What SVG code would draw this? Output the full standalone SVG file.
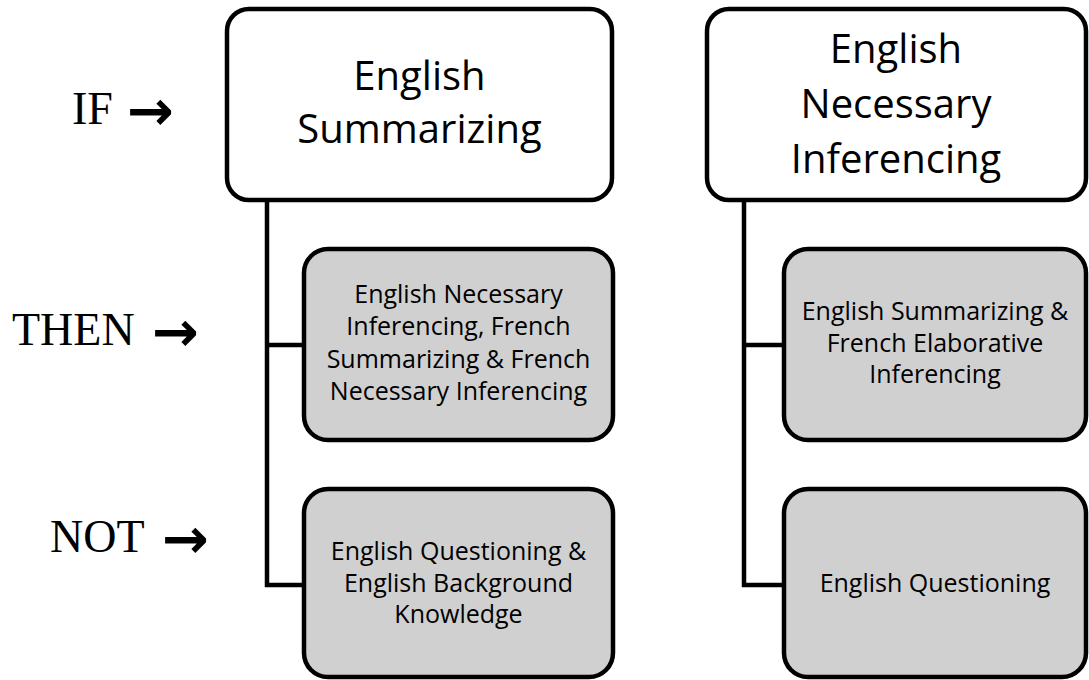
<svg xmlns="http://www.w3.org/2000/svg" width="1089" height="680" viewBox="0 0 1089 680">
  <style>
    .top { fill: #ffffff; stroke: #000000; stroke-width: 4.5; }
    .sub { fill: #d0d0d0; stroke: #000000; stroke-width: 4.5; }
    .conn { fill: none; stroke: #000000; stroke-width: 4.5; stroke-linejoin: miter; }
    .big { font-family: "Open Sans", "Liberation Sans", sans-serif; font-size: 40px; fill: #000; text-anchor: middle; }
    .small { font-family: "Open Sans", "Liberation Sans", sans-serif; font-size: 25px; fill: #000; text-anchor: middle; }
    .lbl { font-family: "Liberation Serif", "Times New Roman", serif; font-size: 46px; fill: #000; }
    .arr { font-family: "Noto Sans", "DejaVu Sans", sans-serif; font-weight: 700; font-size: 56px; }
  </style>
  <rect width="1089" height="680" fill="#ffffff"/>

  <g id="labels">
    <text class="lbl" x="72" y="124">IF<tspan class="arr" x="127" dy="6">→</tspan></text>
    <text class="lbl" x="12" y="345">THEN<tspan class="arr" x="152" dy="6">→</tspan></text>
    <text class="lbl" x="50" y="552">NOT<tspan class="arr" x="162" dy="6">→</tspan></text>
  </g>

  <g id="connectors">
    <path class="conn" d="M267,200 V585 H304 M267,345 H304"/>
    <path class="conn" d="M744,200 V585 H784 M744,345 H784"/>
  </g>

  <g id="node-eng-sum">
    <rect class="top" x="227" y="9" width="385" height="191" rx="22" ry="22"/>
    <text class="big" x="419.5" y="90">English</text>
    <text class="big" x="419.5" y="143">Summarizing</text>
  </g>

  <g id="node-eng-nec">
    <rect class="top" x="707" y="9" width="379" height="191" rx="22" ry="22"/>
    <text class="big" x="896" y="63">English</text>
    <text class="big" x="896" y="118">Necessary</text>
    <text class="big" x="896" y="173">Inferencing</text>
  </g>

  <g id="node-then-left">
    <rect class="sub" x="304" y="249" width="309" height="191" rx="24" ry="24"/>
    <text class="small" x="458.5" y="303">English Necessary</text>
    <text class="small" x="458.5" y="335">Inferencing, French</text>
    <text class="small" x="458.5" y="368">Summarizing &amp; French</text>
    <text class="small" x="458.5" y="400">Necessary Inferencing</text>
  </g>

  <g id="node-not-left">
    <rect class="sub" x="304" y="489" width="309" height="188" rx="24" ry="24"/>
    <text class="small" x="458.5" y="560">English Questioning &amp;</text>
    <text class="small" x="458.5" y="592">English Background</text>
    <text class="small" x="458.5" y="623">Knowledge</text>
  </g>

  <g id="node-then-right">
    <rect class="sub" x="784" y="249" width="302" height="191" rx="24" ry="24"/>
    <text class="small" x="935" y="320">English Summarizing &amp;</text>
    <text class="small" x="935" y="352">French Elaborative</text>
    <text class="small" x="935" y="383">Inferencing</text>
  </g>

  <g id="node-not-right">
    <rect class="sub" x="784" y="489" width="302" height="188" rx="24" ry="24"/>
    <text class="small" x="935" y="592">English Questioning</text>
  </g>
</svg>
